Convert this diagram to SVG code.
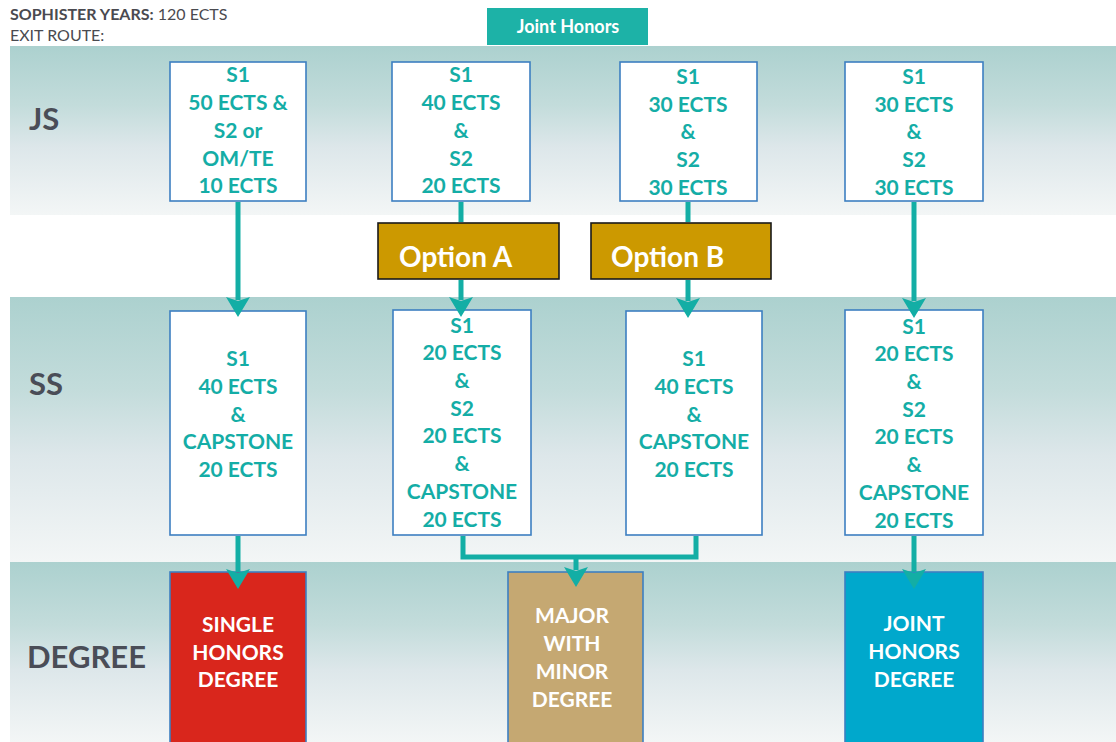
<svg xmlns="http://www.w3.org/2000/svg" width="1116" height="742" viewBox="0 0 1116 742">
<defs>
<linearGradient id="band" x1="0" y1="0" x2="0" y2="1">
<stop offset="0" stop-color="#acd1cf"/>
<stop offset="0.35" stop-color="#c3dcdb"/>
<stop offset="0.6" stop-color="#dde7ea"/>
<stop offset="1" stop-color="#f3f6f6"/>
</linearGradient>
<marker id="ah" markerUnits="userSpaceOnUse" viewBox="0 0 20 24" refX="3" refY="12" markerWidth="20" markerHeight="24" orient="auto">
<path d="M0,0 L20,12 L0,24 L4,12 Z" fill="#13aea5"/>
</marker>
</defs>
<style>
.lbl{font-family:Lato,"Liberation Sans",sans-serif;font-weight:bold;fill:#4a4d57;font-size:31px}
.box{fill:#ffffff;stroke:#3d7fc1;stroke-width:1.6}
.t{font-family:Lato,"Liberation Sans",sans-serif;font-weight:bold;fill:#14ada6;font-size:21px;text-anchor:middle}
.w{font-family:Lato,"Liberation Sans",sans-serif;font-weight:bold;fill:#ffffff;font-size:21px;text-anchor:middle}
.opt{fill:#cc9900;stroke:#1a1a1a;stroke-width:1.6}
.ot{font-family:Lato,"Liberation Sans",sans-serif;font-weight:bold;fill:#ffffff;font-size:28px}
.c{fill:none;stroke:#13aea5;stroke-width:5}
</style>
<rect x="0" y="0" width="1116" height="742" fill="#ffffff"/>
<rect x="10" y="46" width="1106" height="169" fill="url(#band)"/>
<rect x="10" y="297" width="1106" height="265" fill="url(#band)"/>
<rect x="10" y="562" width="1106" height="180" fill="url(#band)"/>

<g id="header">
<text x="10" y="20" font-family="Lato,'Liberation Sans',sans-serif" font-size="16" fill="#4a4a50"><tspan font-weight="bold">SOPHISTER YEARS:</tspan> 120 ECTS</text>
<text x="10" y="41" font-family="Lato,'Liberation Sans',sans-serif" font-size="16" fill="#4a4a50">EXIT ROUTE:</text>
</g>
<g id="title">
<rect x="487" y="8" width="161" height="37" fill="#1db2a7"/>
<text x="568" y="33" font-family="Lato,'Liberation Sans',sans-serif" font-weight="bold" font-size="18" fill="#ffffff" text-anchor="middle">Joint Honors</text>
</g>

<g id="row-labels">
<text class="lbl" x="29" y="130">JS</text>
<text class="lbl" x="29" y="395">SS</text>
<text class="lbl" x="27" y="668">DEGREE</text>
</g>

<g id="js1">
<rect class="box" x="170" y="62" width="136" height="139"/>
<text class="t" x="238" y="82">S1</text>
<text class="t" x="238" y="110">50 ECTS &amp;</text>
<text class="t" x="238" y="138">S2 or</text>
<text class="t" x="238" y="166">OM/TE</text>
<text class="t" x="238" y="193">10 ECTS</text>
</g>
<g id="js2">
<rect class="box" x="392" y="62" width="138" height="139"/>
<text class="t" x="461" y="82">S1</text>
<text class="t" x="461" y="110">40 ECTS</text>
<text class="t" x="461" y="138">&amp;</text>
<text class="t" x="461" y="166">S2</text>
<text class="t" x="461" y="193">20 ECTS</text>
</g>
<g id="js3">
<rect class="box" x="620" y="62" width="137" height="139"/>
<text class="t" x="688" y="84">S1</text>
<text class="t" x="688" y="112">30 ECTS</text>
<text class="t" x="688" y="139">&amp;</text>
<text class="t" x="688" y="167">S2</text>
<text class="t" x="688" y="195">30 ECTS</text>
</g>
<g id="js4">
<rect class="box" x="845" y="62" width="138" height="139"/>
<text class="t" x="914" y="84">S1</text>
<text class="t" x="914" y="112">30 ECTS</text>
<text class="t" x="914" y="139">&amp;</text>
<text class="t" x="914" y="167">S2</text>
<text class="t" x="914" y="195">30 ECTS</text>
</g>

<g id="optA">
<rect class="opt" x="378" y="223" width="181" height="56"/>
<text class="ot" x="399" y="267">Option A</text>
</g>
<g id="optB">
<rect class="opt" x="591" y="223" width="180" height="56"/>
<text class="ot" x="611" y="267">Option B</text>
</g>

<g id="ss1">
<rect class="box" x="170" y="311" width="136" height="224"/>
<text class="t" x="238" y="366">S1</text>
<text class="t" x="238" y="394">40 ECTS</text>
<text class="t" x="238" y="422">&amp;</text>
<text class="t" x="238" y="449">CAPSTONE</text>
<text class="t" x="238" y="477">20 ECTS</text>
</g>
<g id="ss2">
<rect class="box" x="393" y="310" width="138" height="225"/>
<text class="t" x="462" y="333">S1</text>
<text class="t" x="462" y="360">20 ECTS</text>
<text class="t" x="462" y="388">&amp;</text>
<text class="t" x="462" y="416">S2</text>
<text class="t" x="462" y="443">20 ECTS</text>
<text class="t" x="462" y="471">&amp;</text>
<text class="t" x="462" y="499">CAPSTONE</text>
<text class="t" x="462" y="527">20 ECTS</text>
</g>
<g id="ss3">
<rect class="box" x="626" y="311" width="136" height="224"/>
<text class="t" x="694" y="366">S1</text>
<text class="t" x="694" y="394">40 ECTS</text>
<text class="t" x="694" y="422">&amp;</text>
<text class="t" x="694" y="449">CAPSTONE</text>
<text class="t" x="694" y="477">20 ECTS</text>
</g>
<g id="ss4">
<rect class="box" x="845" y="310" width="138" height="225"/>
<text class="t" x="914" y="334">S1</text>
<text class="t" x="914" y="361">20 ECTS</text>
<text class="t" x="914" y="389">&amp;</text>
<text class="t" x="914" y="417">S2</text>
<text class="t" x="914" y="444">20 ECTS</text>
<text class="t" x="914" y="472">&amp;</text>
<text class="t" x="914" y="500">CAPSTONE</text>
<text class="t" x="914" y="528">20 ECTS</text>
</g>

<g id="deg-single">
<rect x="170" y="572" width="136" height="175" fill="#d9261c" stroke="#3d7fc1" stroke-width="1.6"/>
<text class="w" x="238" y="632">SINGLE</text>
<text class="w" x="238" y="660">HONORS</text>
<text class="w" x="238" y="687">DEGREE</text>
</g>
<g id="deg-major">
<rect x="508" y="572" width="135" height="175" fill="#c5a872" stroke="#3d7fc1" stroke-width="1.6"/>
<text class="w" x="572" y="623">MAJOR</text>
<text class="w" x="572" y="651">WITH</text>
<text class="w" x="572" y="679">MINOR</text>
<text class="w" x="572" y="707">DEGREE</text>
</g>
<g id="deg-joint">
<rect x="845" y="572" width="138" height="175" fill="#00a8cc" stroke="#3d7fc1" stroke-width="1.6"/>
<text class="w" x="914" y="631">JOINT</text>
<text class="w" x="914" y="659">HONORS</text>
<text class="w" x="914" y="687">DEGREE</text>
</g>

<g id="connectors">
<line class="c" x1="238" y1="202" x2="238" y2="300" marker-end="url(#ah)"/>
<line class="c" x1="461" y1="202" x2="461" y2="222"/>
<line class="c" x1="461" y1="280" x2="461" y2="300" marker-end="url(#ah)"/>
<line class="c" x1="688" y1="202" x2="688" y2="222"/>
<line class="c" x1="688" y1="280" x2="688" y2="301" marker-end="url(#ah)"/>
<line class="c" x1="914" y1="202" x2="914" y2="301" marker-end="url(#ah)"/>
<line class="c" x1="238" y1="536" x2="238" y2="572" marker-end="url(#ah)"/>
<polyline class="c" points="463,536 463,557 696,557 696,536"/>
<line class="c" x1="576" y1="557" x2="576" y2="570" marker-end="url(#ah)"/>
<line class="c" x1="914" y1="536" x2="914" y2="572" marker-end="url(#ah)"/>
</g>
</svg>
